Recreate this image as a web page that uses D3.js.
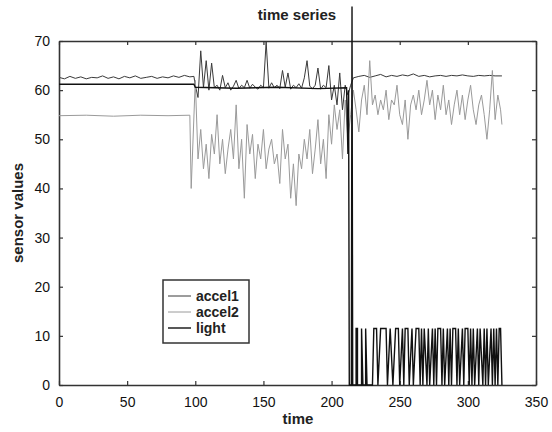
<!doctype html>
<html>
<head>
<meta charset="utf-8">
<title>time series</title>
<script src="https://cdn.jsdelivr.net/npm/d3@7"></script>
<style>
  body { margin: 0; background: #fff; }
  svg { display: block; font-family: "Liberation Sans", Arial, sans-serif; }
  .tick text { font-size: 14px; fill: #111; }
</style>
</head>
<body>
<svg width="552" height="432"></svg>
<script>
// series: [time, value]
var accel1 = [
  [0,62.6],[4,62.3],[8,62.8],[12,62.4],[16,62.7],[20,62.3],[24,62.6],[28,62.5],[32,62.9],[36,62.4],
  [40,62.7],[44,62.3],[48,62.8],[52,62.5],[56,62.9],[60,62.4],[64,62.6],[68,62.8],[72,62.4],[76,62.7],
  [80,62.5],[84,62.9],[88,62.6],[92,63.0],[96,62.7],[99,62.8],
  [100,61],[102,58.5],[104,68],[106,60.5],[108,66],[110,60],[112,65.5],[114,60.5],[116,61],[118,60],
  [120,63],[122,60.5],[124,61.5],[126,60],[128,60.8],[130,62],[132,60.3],[134,61],[136,60.5],[138,62],
  [140,60.4],[142,61.2],[144,60.6],[146,60.2],[148,61],[150,60.5],[152,69.8],[154,60.4],[156,61.5],[158,60.5],
  [160,61],[162,60.3],[164,64],[166,60.6],[168,63.5],[170,60.2],[172,61],[174,60.5],[176,61.3],[178,60.4],
  [180,62.5],[182,66],[184,60.8],[186,60.3],[188,61],[190,64.5],[192,60.2],[194,61],[196,60.5],[198,65],
  [200,58],[202,61],[204,57],[206,63.5],[208,56],[210,61],[212,59],[214,61],
  [216,62.5],[220,62.8],[224,63],[228,62.6],[232,62.9],[236,63.2],[240,62.7],[244,63],[248,62.8],[252,63.1],
  [256,62.9],[260,63.3],[264,62.8],[268,63],[272,62.7],[276,62.9],[280,63],[284,62.8],[288,63],[292,62.9],
  [296,63.1],[300,62.9],[304,62.8],[308,63],[312,62.9],[316,63],[320,62.9],[325,62.9]
];

var accel2 = [
  [0,54.8],[20,54.9],[40,54.7],[60,54.9],[80,54.8],[96,54.9],[97,40],[100,62],
  [102,46],[104,52],[106,44],[108,49],[110,42],[112,51],[114,47],[116,55],[118,45],[120,50],
  [122,43],[124,48],[126,52],[128,46],[130,57],[132,44],[134,50],[136,38],[138,53],[140,47],
  [142,51],[144,42],[146,49],[148,46],[150,52],[152,44],[154,48],[156,50],[158,45],[160,47],
  [162,41],[164,52],[166,46],[168,49],[170,38],[172,45],[174,36.5],[176,47],[178,44],[180,50],
  [182,46],[184,52],[186,43],[188,48],[190,54],[192,45],[194,50],[196,42],[198,55],[200,49],
  [202,57],[204,52],[206,56],[208,46],[210,58],[212,50],[214,55],
  [216,60],[218,56],[220,51.5],[222,58],[224,61],[226,55],[228,66],[230,57],[232,59],[234,55],
  [236,58],[238,56],[240,60],[242,54],[244,58],[246,57],[248,61],[250,55],[252,53],[254,58],
  [256,50],[258,57],[260,59],[262,56],[264,60],[266,55],[268,58],[270,62],[272,57],[274,60],
  [276,54],[278,59],[280,56],[282,61],[284,55],[286,58],[288,53],[290,57],[292,60],[294,55],
  [296,59],[298,54],[300,58],[302,61],[304,56],[306,53],[308,57],[310,59],[312,55],[314,50],
  [316,56],[318,64],[320,54],[322,59],[324,56],[325,53]
];

var light = [
  [0,61.2],[99,61.2],[100,60.6],[130,60.4],[160,60.6],[190,60.3],[211,60.5],[212,47],[212.5,60],[213,0],
  [214.5,0],[215,77],[215.5,0],
  [218,0],[218,11.5],[219,11.5],[219,0],[222,0],[222,11.5],[223,0],[225,0],[225,11.5],[226,0],
  [230,0],[231,11.5],[233,11.5],[234,0],[236,11.5],[240,11.5],[241,0],[243,11.5],[245,0],[247,11.5],
  [249,11.5],[250,0],[252,11.5],[253,0],[254,11.5],[256,11.5],[257,0],[259,11.5],[260,0],[262,11.5],
  [264,11.5],[265,0],[266,11.5],[267,0],[268,11.5],[270,0],[271,11.5],[272,0],[274,11.5],[275,0],
  [276,11.5],[277,0],[278,11.5],[280,11.5],[281,0],[282,11.5],[283,0],[285,11.5],[286,0],[287,11.5],
  [288,0],[289,11.5],[291,11.5],[292,0],[293,11.5],[294,0],[296,11.5],[297,0],[298,11.5],[300,11.5],
  [301,0],[302,11.5],[303,0],[304,11.5],[305,0],[307,11.5],[308,0],[309,11.5],[311,0],[312,11.5],
  [313,0],[314,11.5],[315,0],[317,11.5],[318,0],[319,11.5],[320,0],[321,11.5],[322,0],[323,11.5],
  [324,11.5],[325,0]
];

var seriesNames = ["accel1", "accel2", "light"];
var xTicks = [0, 50, 100, 150, 200, 250, 300, 350];
var yTicks = [0, 10, 20, 30, 40, 50, 60, 70];

var svg = d3.select("svg");
var x = d3.scaleLinear().domain([0, 350]).range([59, 536]);
var y = d3.scaleLinear().domain([0, 70]).range([385, 41]);

var styles = {
  accel1: { color: "#3a3a3a", width: 1 },
  accel2: { color: "#9a9a9a", width: 1 },
  light:  { color: "#111",    width: 1.4 }
};

var line = d3.line().x(function(d) { return x(d[0]); }).y(function(d) { return y(d[1]); });

// axes (MATLAB style: box, ticks inside on all sides)
var axB = svg.append("g").attr("transform", "translate(0,385)")
  .call(d3.axisBottom(x).tickValues(xTicks).tickSizeInner(-4).tickSizeOuter(0).tickPadding(9));
var axL = svg.append("g").attr("transform", "translate(59,0)")
  .call(d3.axisLeft(y).tickValues(yTicks).tickSizeInner(-4).tickSizeOuter(0).tickPadding(9));
svg.append("g").attr("transform", "translate(0,41)")
  .call(d3.axisTop(x).tickValues(xTicks).tickSizeInner(-4).tickSizeOuter(0).tickFormat(""));
svg.append("g").attr("transform", "translate(536,0)")
  .call(d3.axisRight(y).tickValues(yTicks).tickSizeInner(-4).tickSizeOuter(0).tickFormat(""));
svg.selectAll(".domain").attr("stroke", "#333").attr("stroke-width", 1.6);
svg.selectAll(".tick line").attr("stroke", "#333").attr("stroke-width", 1.2);
axB.selectAll("text").attr("dy", "0.9em");

// lines
seriesNames.forEach(function(name) {
  var data = { accel1: accel1, accel2: accel2, light: light }[name];
  svg.append("path")
    .datum(data)
    .attr("fill", "none")
    .attr("stroke", styles[name].color)
    .attr("stroke-width", styles[name].width)
    .attr("stroke-linejoin", "miter")
    .attr("d", line);
});

// title and labels
svg.append("text").attr("x", 297).attr("y", 20).attr("text-anchor", "middle")
  .style("font-size", "15px").style("font-weight", "bold").attr("fill", "#222").text("time series");
svg.append("text").attr("x", 298).attr("y", 424).attr("text-anchor", "middle")
  .style("font-size", "15px").style("font-weight", "bold").attr("fill", "#222").text("time");
svg.append("text").attr("transform", "translate(23,213) rotate(-90)").attr("text-anchor", "middle")
  .style("font-size", "15px").style("font-weight", "bold").attr("fill", "#222").text("sensor values");

// legend
var lg = svg.append("g").attr("transform", "translate(163,280)");
lg.append("rect").attr("width", 86).attr("height", 63)
  .attr("fill", "#fff").attr("stroke", "#333").attr("stroke-width", 1.5);
seriesNames.forEach(function(name, i) {
  var yy = 16 + i * 16;
  lg.append("line").attr("x1", 5).attr("x2", 28).attr("y1", yy).attr("y2", yy)
    .attr("stroke", styles[name].color).attr("stroke-width", styles[name].width);
  lg.append("text").attr("x", 33).attr("y", yy + 5)
    .style("font-size", "14px").style("font-weight", "bold").attr("fill", "#222").text(name);
});
</script>
</body>
</html>
